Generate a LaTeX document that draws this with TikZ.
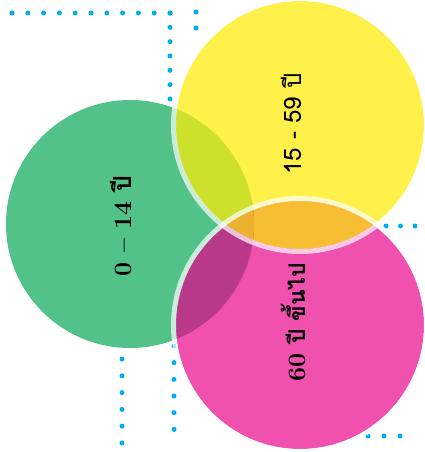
\documentclass[tikz,border=0pt]{standalone}
\usepackage{fontspec}
\newfontfamily\thaifont[Script=Thai]{Loma}
\usetikzlibrary{positioning}

\definecolor{dotblue}{RGB}{0,174,239}
\definecolor{kidgreen}{RGB}{82,194,137}
\definecolor{adultyellow}{RGB}{255,241,74}
\definecolor{elderpink}{RGB}{240,80,174}
\definecolor{limemix}{RGB}{204,224,44}
\definecolor{orangemix}{RGB}{247,190,52}
\definecolor{purplemix}{RGB}{185,58,138}
\definecolor{triplemix}{RGB}{234,176,46}

\begin{document}
\begin{tikzpicture}[
    x=1pt, y=-1pt,
    dotline/.style={draw=dotblue, line width=5pt, line cap=round, dash pattern=on 0pt off #1},
    disc/.style={circle, minimum size=248pt, inner sep=0pt, fill=#1},
    rim/.style={draw=white, draw opacity=0.7, line width=5pt},
    agetag/.style={rotate=90, inner sep=0pt, font=\fontsize{25}{25}\selectfont\bfseries}
  ]
  \useasboundingbox (0,0) rectangle (424,452);

  % dotted guide lines
  \coordinate (TL) at (-3.8,13);
  \coordinate (TC) at (170,13);
  \coordinate (TB) at (170,99);
  \coordinate (RT) at (196,12);
  \coordinate (RB) at (196,44);
  \coordinate (ML) at (386,226);
  \coordinate (MR) at (415,226);
  \coordinate (BA) at (174,346);
  \coordinate (BB) at (174,446);
  \coordinate (LA) at (122,359);
  \coordinate (LB) at (122,443);
  \coordinate (FL) at (368,436);
  \coordinate (FR) at (416,436);
  \draw[dotline=15.8pt] (TC) -- (TL);
  \draw[dotline=14.33pt] (TC) -- (TB);
  \draw[dotline=16pt] (RT) -- (RB);
  \draw[dotline=14.5pt] (ML) -- (MR);
  \draw[dotline=16.67pt] (BA) -- (BB);
  \draw[dotline=16.8pt] (LA) -- (LB);
  \draw[dotline=16pt] (FL) -- (FR);

  % age groups
  \node (kids) [disc=kidgreen] at (130,224) {};
  \node (adults) [disc=adultyellow] at (300,125) {};
  \node (elders) [disc=elderpink] at (300,325) {};

  % overlaps
  \begin{scope}
    \clip (adults.center) circle (124pt);
    \fill[orangemix] (elders.center) circle (124pt);
  \end{scope}
  \begin{scope}
    \clip (kids.center) circle (124pt);
    \fill[limemix] (adults.center) circle (124pt);
    \fill[purplemix] (elders.center) circle (124pt);
    \clip (adults.center) circle (124pt);
    \fill[triplemix] (elders.center) circle (124pt);
  \end{scope}
  \draw[rim] (adults.center) circle (126.5pt);
  \draw[rim] (elders.center) circle (126.5pt);

  \node (kidtag) [agetag] at (121,226) {0 – 14 {\thaifont ปี}};
  \node (adulttag) [agetag, font=\thaifont\fontsize{24}{24}\selectfont] at (291,124) {15 - 59 ปี};
  \node (eldertag) [agetag] at (293,322) {60 {\thaifont\fontsize{23}{23}\selectfont ปี ขึ้นไป}};
\end{tikzpicture}
\end{document}
